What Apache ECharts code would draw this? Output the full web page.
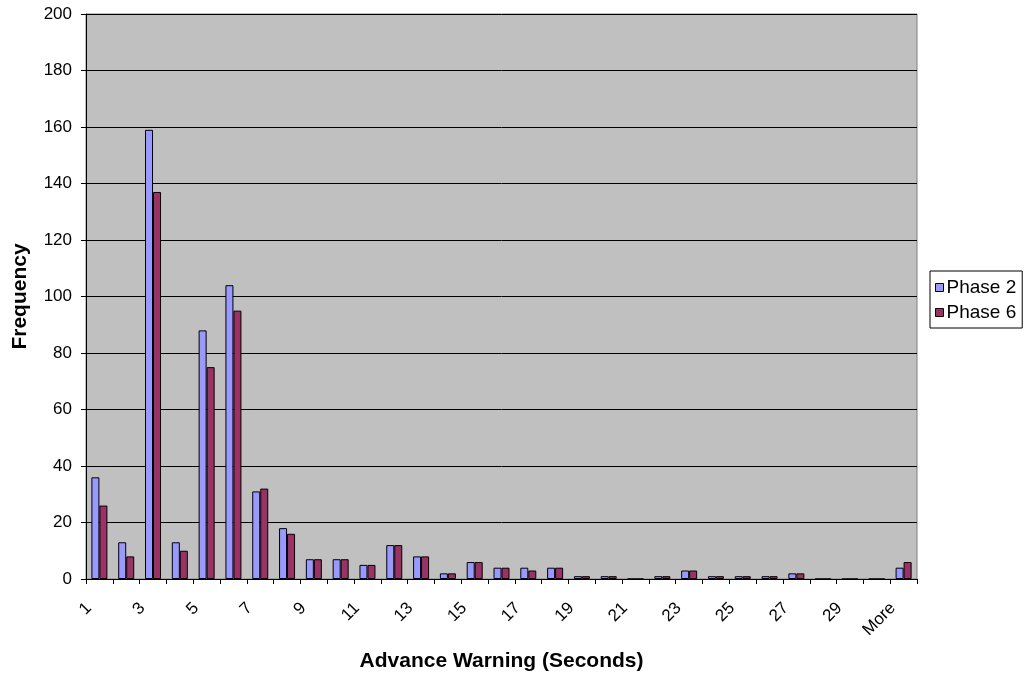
<!DOCTYPE html>
<html>
<head>
<meta charset="utf-8">
<script src="https://cdn.jsdelivr.net/npm/echarts@6/dist/echarts.min.js"></script>
<style>
  html, body { margin: 0; padding: 0; background: #fff; }
  #chart { width: 1027px; height: 681px; }
</style>
</head>
<body>
<div id="chart"></div>
<script>
const categories = ["1", "2", "3", "4", "5", "6", "7", "8", "9", "10", "11", "12", "13", "14", "15", "16", "17", "18", "19", "20", "21", "22", "23", "24", "25", "26", "27", "28", "29", "30", "More"];
const phase2 = [36, 13, 159, 13, 88, 104, 31, 18, 7, 7, 5, 12, 8, 2, 6, 4, 4, 4, 1, 1, 0, 1, 3, 1, 1, 1, 2, 0, 0, 0, 4];
const phase6 = [26, 8, 137, 10, 75, 95, 32, 16, 7, 7, 5, 12, 8, 2, 6, 4, 3, 4, 1, 1, 0, 1, 3, 1, 1, 1, 2, 0, 0, 0, 6];
const font = "Liberation Sans, Arial, sans-serif";

const chart = echarts.init(document.getElementById("chart"));
chart.setOption({
  animation: false,
  textStyle: { fontFamily: font },
  grid: { left: 86, right: 110, top: 14, bottom: 102, show: true, backgroundColor: "#c0c0c0", borderColor: "#808080", borderWidth: 1 },
  legend: {
    orient: "vertical",
    left: 930, top: 271,
    padding: [7, 6, 6, 5],
    itemGap: 6,
    itemWidth: 8, itemHeight: 8,
    backgroundColor: "#fff",
    borderColor: "#000", borderWidth: 1,
    textStyle: { fontFamily: font, fontSize: 19, color: "#000", padding: [0, 0, 0, -2] },
    data: [
      { name: "Phase 2", icon: "rect", itemStyle: { borderColor: "#000", borderWidth: 1 } },
      { name: "Phase 6", icon: "rect", itemStyle: { borderColor: "#000", borderWidth: 1 } },
    ],
  },
  xAxis: {
    type: "category",
    data: categories,
    name: "Advance Warning (Seconds)",
    nameLocation: "middle",
    nameGap: 72,
    nameTextStyle: { fontFamily: font, fontSize: 21, fontWeight: "bold", color: "#000" },
    axisLine: { lineStyle: { color: "#000", width: 1 } },
    axisTick: { show: true, interval: 0, length: 5, lineStyle: { color: "#000" } },
    axisLabel: { interval: 1, rotate: 45, margin: 16, padding: [0, 15, 0, 0], fontSize: 17, color: "#000", fontFamily: font },
    splitLine: { show: false },
  },
  yAxis: {
    type: "value",
    min: 0, max: 200, interval: 20,
    name: "Frequency",
    nameLocation: "middle",
    nameGap: 55,
    nameTextStyle: { fontFamily: font, fontSize: 21, fontWeight: "bold", color: "#000" },
    axisLine: { show: true, lineStyle: { color: "#000", width: 1 } },
    axisTick: { show: true, length: 5, lineStyle: { color: "#000" } },
    axisLabel: { fontSize: 17, color: "#000", margin: 14, fontFamily: font },
    splitLine: { show: true, lineStyle: { color: "#000", width: 1 } },
  },
  series: [
    { name: "Phase 2", type: "bar", data: phase2, barWidth: 8, barGap: "0%", itemStyle: { color: "#9999ff", borderColor: "#000", borderWidth: 1 } },
    { name: "Phase 6", type: "bar", data: phase6, barWidth: 8, barGap: "0%", itemStyle: { color: "#993366", borderColor: "#000", borderWidth: 1 } },
  ],
});
</script>
</body>
</html>
